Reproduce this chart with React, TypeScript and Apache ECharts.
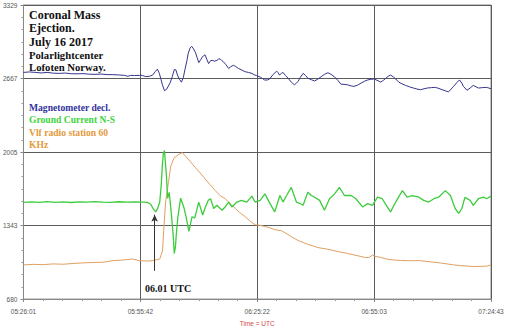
import React, { useEffect, useRef } from "react";
import * as echarts from "echarts";

// Time in minutes after 05:26:01 UTC, values in the chart's y units
const xTickLabels = ["05:26:01", "05:55:42", "06:25:22", "06:55:03", "07:24:43"];
const yTickLabels = ["680", "1343", "2005", "2667", "3329"];

const magTimes = [0,1.5,3.0,4.5,6.0,7.6,9.1,10.6,12.1,13.6,15.1,16.6,18.1,19.7,21.2,22.7,24.2,25.7,26.5,27.2,28.2,29.5,30.2,31.0,32.0,32.8,33.5,34.0,34.5,34.9,35.3,35.8,36.3,36.8,37.3,37.8,38.3,38.7,39.1,39.6,40.1,40.6,41.0,41.5,41.8,42.3,42.7,43.2,43.7,44.1,44.5,45.0,45.4,45.7,46.1,46.6,47.0,47.5,47.9,48.5,49.1,49.5,49.9,50.4,50.8,51.4,52.1,52.7,53.3,53.9,54.6,55.4,56.3,57.1,58.0,58.6,59.2,60.2,61.2,61.9,62.5,63.4,64.3,64.6,65.0,65.5,65.9,66.5,67.2,68.0,68.8,69.3,69.7,70.3,71.0,71.6,72.2,73.1,73.9,74.7,75.6,76.4,77.3,78.1,78.9,79.8,80.6,81.4,82.3,83.2,83.9,84.8,85.7,86.6,87.4,88.2,89.0,90.0,90.7,91.4,92.0,92.6,93.2,93.9,94.5,95.3,96.1,97.0,98.0,99.0,99.9,100.8,101.7,102.5,103.6,104.6,105.5,106.3,107.1,107.9,108.6,109.2,110.0,110.7,111.3,111.7,112.6,113.4,114.2,114.9,115.5,116.6,117.6,118.7];
const magValues = [2722,2726,2722,2717,2722,2715,2713,2716,2710,2709,2711,2706,2704,2707,2702,2702,2699,2695,2687,2695,2694,2695,2695,2684,2687,2698,2731,2751,2713,2660,2607,2557,2568,2599,2634,2687,2748,2744,2698,2660,2634,2678,2748,2827,2889,2942,2957,2933,2898,2854,2810,2836,2860,2871,2880,2836,2801,2827,2830,2823,2830,2841,2845,2827,2816,2792,2757,2775,2786,2775,2757,2744,2728,2722,2713,2700,2693,2678,2654,2653,2663,2704,2733,2722,2698,2713,2722,2695,2669,2634,2610,2625,2640,2678,2713,2695,2669,2656,2645,2660,2684,2704,2719,2704,2684,2651,2616,2614,2610,2600,2596,2607,2625,2643,2654,2660,2663,2647,2634,2651,2669,2687,2698,2682,2663,2634,2619,2605,2592,2581,2572,2566,2574,2581,2585,2587,2577,2566,2556,2546,2572,2596,2629,2654,2625,2596,2561,2581,2605,2592,2581,2585,2587,2575];

const gcTimes = [0,2.0,4.0,6.0,8.1,10.1,12.1,14.1,16.1,18.1,20.2,22.2,24.2,26.2,28.2,30.2,31.5,32.3,33.0,33.6,34.1,34.6,35.0,35.3,35.5,35.8,36.0,36.3,36.6,37.0,37.5,38.0,38.3,38.6,38.8,
  39.2,39.9,40.7,41.3,42.0,42.8,43.5,44.5,45.5,46.2,46.9,47.5,48.3,49.1,50.4,51.2,52.1,52.9,54.2,55.4,56.7,58.0,58.8,60.1,61.3,62.6,63.8,65.1,65.9,66.8,68.0,69.3,
  70.1,71.0,72.2,73.1,73.9,75.2,76.4,77.7,79.0,80.2,81.5,83.2,84.4,86.1,87.4,88.6,89.9,91.1,92.0,93.2,94.5,96.2,97.4,98.7,100.4,101.6,102.9,104.2,105.4,107.1,108.4,109.6,110.5,111.3,112.1,113.4,114.2,115.5,116.8,117.6,118.7];
const gcValues = [1551,1556,1551,1558,1551,1555,1550,1556,1553,1558,1554,1551,1557,1553,1556,1554,1551,1534,1490,1466,1499,1554,1719,1906,1983,2018,1921,1789,1587,1642,1466,1261,1091,1155,1261,
  1419,1589,1510,1419,1290,1422,1411,1554,1437,1510,1569,1584,1496,1525,1481,1510,1554,1510,1554,1569,1554,1607,1554,1569,1628,1540,1466,1613,1554,1613,1686,1554,
  1543,1525,1642,1613,1598,1569,1481,1584,1628,1686,1613,1613,1584,1510,1540,1525,1598,1584,1531,1466,1554,1657,1598,1613,1598,1569,1554,1584,1598,1657,1613,1496,1452,1496,1598,1569,1525,1584,1598,1584,1607];

const vlfTimes = [0,2.5,5.0,7.6,10.1,12.6,15.1,17.6,20.2,22.7,25.2,27.7,29.4,31.5,32.8,34.6,35.3,35.7,36.1,36.8,37.4,38.2,39.3,40.3,41.2,42.3,43.7,44.9,46.2,47.4,48.7,49.9,51.2,52.4,53.8,54.9,56.3,57.5,58.8,60.0,61.3,62.5,63.8,65.5,67.2,68.0,69.7,72.2,74.8,77.3,79.8,82.3,84.9,86.9,87.8,88.6,89.5,90.7,92.2,94.1,95.8,97.4,99.0,100.8,102.5,104.2,105.8,107.5,109.2,110.9,112.6,114.2,115.9,117.6,118.7];
const vlfValues = [988,993,990,997,994,1001,1006,1010,1012,1026,1032,1041,1026,1023,1026,1041,1114,1349,1554,1730,1877,1950,1980,2000,1965,1921,1862,1815,1760,1710,1657,1613,1584,1543,1496,1459,1422,1384,1349,1345,1334,1323,1305,1296,1261,1243,1208,1173,1144,1129,1109,1091,1070,1054,1056,1076,1063,1056,1041,1032,1028,1026,1026,1026,1019,1012,1006,997,988,982,978,973,975,977,988];

// Onset annotation (minutes, value range of the arrow)
const onsetTime = 33.3;
const onsetArrowFrom = 935;
const onsetArrowTo = 1440;
const onsetLabel = "06.01 UTC";

const titleLines = ["Coronal Mass", "Ejection.", "July 16 2017", "Polarlightcenter", "Lofoten Norway."];
const legendLines = [
  { text: "Magnetometer decl.", color: "#34349c" },
  { text: "Ground Current N-S", color: "#3ed43e" },
  { text: "Vlf radio station 60", color: "#e49a3c" },
  { text: "KHz", color: "#e49a3c" },
];

const Y_MIN = 680;
const Y_MAX = 3329;
const X_MAX_SEC = 7122;

const toPairs = (ts: number[], vs: number[]) =>
  ts.map((t, i) => [t * 60, vs[i] - Y_MIN]);

export default function App() {
  const ref = useRef<HTMLDivElement>(null);
  useEffect(() => {
    const chart = echarts.init(ref.current!, null, { renderer: "svg" });
    const axisFont = "'Liberation Sans', Arial, sans-serif";
    const serif = "'Liberation Serif', 'Times New Roman', serif";
    const yInterval = (Y_MAX - Y_MIN) / 4;
    const xInterval = X_MAX_SEC / 4;
    const graphics: any[] = [];
    const titleY = [15, 28.5, 42, 55, 67.5];
    titleLines.forEach((t, i) => {
      const fs = i < 3 ? 12 : 10.7;
      graphics.push({
        type: "text",
        left: 29,
        top: titleY[i] - fs / 2 - 0.5,
        style: { text: t, fill: "#111", font: `bold ${fs}px ${serif}` },
      });
    });
    const legY = [108, 120, 132.5, 145];
    legendLines.forEach((l, i) => {
      graphics.push({
        type: "text",
        left: 29,
        top: legY[i] - 5.5,
        style: { text: l.text, fill: l.color, font: `bold 9.6px ${serif}` },
      });
    });
    graphics.push({
      type: "text",
      left: 145,
      top: 283,
      style: { text: onsetLabel, fill: "#111", font: `bold 10px ${serif}` },
    });

    chart.setOption({
      animation: false,
      backgroundColor: "#fff",
      grid: {
        left: 20,
        right: 18,
        top: 5,
        bottom: 26,
        show: true,
        borderColor: "#888",
        borderWidth: 1,
      },
      xAxis: {
        type: "value",
        min: 0,
        max: X_MAX_SEC,
        interval: xInterval,
        name: "Time = UTC",
        nameLocation: "middle",
        nameGap: 18,
        nameTextStyle: { color: "#d04848", fontSize: 6.5, fontFamily: axisFont },
        axisLine: { show: true, lineStyle: { color: "#888", width: 1 } },
        axisTick: { show: true, length: 3, lineStyle: { color: "#888" } },
        minorTick: { show: true, splitNumber: 6, length: 2, lineStyle: { color: "#999" } },
        axisLabel: {
          color: "#555",
          fontSize: 6.5,
          fontFamily: axisFont,
          margin: 9,
          formatter: (v: number) => xTickLabels[Math.round(v / xInterval)] ?? "",
        },
        splitLine: { show: true, lineStyle: { color: "#5c5c5c", width: 1 } },
      },
      yAxis: {
        type: "value",
        min: 0,
        max: Y_MAX - Y_MIN,
        interval: yInterval,
        axisLine: { show: true, lineStyle: { color: "#888", width: 1 } },
        axisTick: { show: true, length: 3, lineStyle: { color: "#888" } },
        minorTick: { show: true, splitNumber: 6, length: 2, lineStyle: { color: "#999" } },
        axisLabel: {
          color: "#555",
          fontSize: 6.5,
          fontFamily: axisFont,
          margin: 6,
          formatter: (v: number) => yTickLabels[Math.round(v / yInterval)] ?? "",
        },
        splitLine: { show: true, lineStyle: { color: "#5c5c5c", width: 1 } },
      },
      series: [
        {
          type: "line",
          name: "Magnetometer decl.",
          data: toPairs(magTimes, magValues),
          showSymbol: false,
          lineStyle: { color: "#34348e", width: 1 },
          z: 3,
        },
        {
          type: "line",
          name: "Vlf radio station 60 KHz",
          data: toPairs(vlfTimes, vlfValues),
          showSymbol: false,
          lineStyle: { color: "#e0a062", width: 1 },
          z: 2,
          markLine: {
            silent: true,
            symbol: ["none", "arrow"],
            symbolSize: [5, 7],
            label: { show: false },
            lineStyle: { color: "#333", width: 1, type: "solid" },
            data: [
              [
                { coord: [onsetTime * 60, onsetArrowFrom - Y_MIN] },
                { coord: [onsetTime * 60, onsetArrowTo - Y_MIN] },
              ],
            ],
          },
        },
        {
          type: "line",
          name: "Ground Current N-S",
          data: toPairs(gcTimes, gcValues),
          showSymbol: false,
          lineStyle: { color: "#3ccc3c", width: 1.3 },
          z: 4,
        },
      ],
      graphic: graphics,
    });
    return () => chart.dispose();
  }, []);
  return (
    <div
      ref={ref}
      style={{ position: "fixed", left: 0, top: 0, width: 509, height: 332, background: "#fff" }}
    />
  );
}
